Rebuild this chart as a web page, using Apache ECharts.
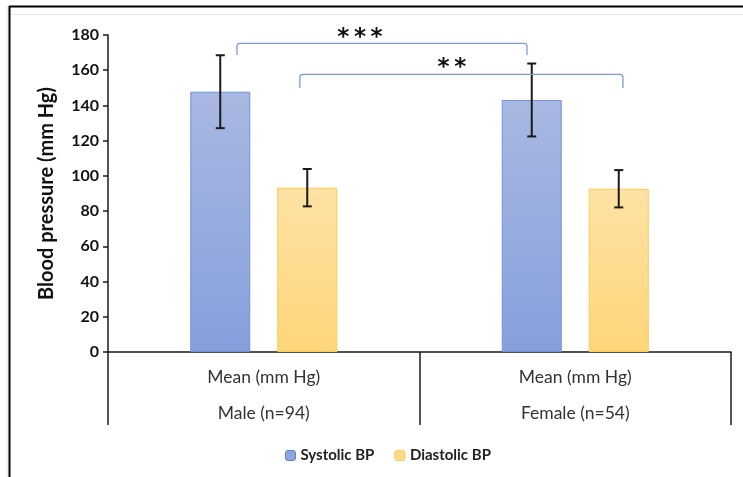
<!DOCTYPE html>
<html>
<head>
<meta charset="utf-8">
<script src="https://cdn.jsdelivr.net/npm/echarts/dist/echarts.min.js"></script>
<style>
html,body{margin:0;padding:0;background:#fff;}
#chart{width:743px;height:477px;}
</style>
</head>
<body>
<div id="chart"></div>
<script>
// ---- data ----
const groups = ['Male (n=94)', 'Female (n=54)'];
const measureLabel = 'Mean (mm Hg)';
const seriesNames = ['Systolic BP', 'Diastolic BP'];
const systolicMean = [147.8, 143.1];
const systolicSD = [20.7, 20.7];
const diastolicMean = [93.3, 92.7];
const diastolicSD = [10.6, 10.6];
const yMin = 0, yMax = 180, yInterval = 20;
// significance brackets: positions in category units, heights in mm Hg
const bracketFrom = [-0.086, 0.116];
const bracketTo = [0.845, 1.153];
const bracketTop = [175.3, 157.6];
const bracketEnd = [168.6, 149.9];
const bracketLabel = ['*\u2009*\u2009*', '*\u2009*'];
const bracketLabelPos = [0.309, 0.604];
const bracketLabelY = [178.0, 161.0];

// ---- style ----
const BAR_W = 60, GAP = 27;
const FONT = 'Lato, "Open Sans", sans-serif';
const sysGrad = new echarts.graphic.LinearGradient(0, 0, 0, 1, [
  {offset: 0, color: '#a9b8e2'}, {offset: 1, color: '#86a0dc'}]);
const diaGrad = new echarts.graphic.LinearGradient(0, 0, 0, 1, [
  {offset: 0, color: '#fee2a4'}, {offset: 1, color: '#fed67a'}]);

const chart = echarts.init(document.getElementById('chart'), null, {renderer: 'canvas'});

function errorRender(means, sds, sIdx) {
  return function (params, api) {
    const i = params.dataIndex;
    const off = (BAR_W + GAP) / 2 * (sIdx === 0 ? -1 : 1);
    const top = api.coord([i, means[i] + sds[i]]);
    const bot = api.coord([i, means[i] - sds[i]]);
    const x = top[0] + off;
    const cap = 4.5;
    const st = {stroke: '#1a1a1a', lineWidth: 2};
    return {type: 'group', children: [
      {type: 'line', shape: {x1: x, y1: top[1], x2: x, y2: bot[1]}, style: st},
      {type: 'line', shape: {x1: x - cap, y1: top[1], x2: x + cap, y2: top[1]}, style: st},
      {type: 'line', shape: {x1: x - cap, y1: bot[1], x2: x + cap, y2: bot[1]}, style: st}
    ]};
  };
}

function bracketRender(params, api) {
  const i = params.dataIndex;
  const c0 = api.coord([0, bracketTop[i]]);
  const band = api.size([1, 0])[0];
  const x1 = c0[0] + bracketFrom[i] * band;
  const x2 = c0[0] + bracketTo[i] * band;
  const yT = c0[1];
  const yE = api.coord([0, bracketEnd[i]])[1];
  const r = 3;
  const lx = c0[0] + bracketLabelPos[i] * band;
  const ly = api.coord([0, bracketLabelY[i]])[1];
  const d = `M${x1} ${yE} L${x1} ${yT + r} Q${x1} ${yT} ${x1 + r} ${yT} L${x2 - r} ${yT} Q${x2} ${yT} ${x2} ${yT + r} L${x2} ${yE}`;
  return {type: 'group', children: [
    {type: 'path', shape: {pathData: d}, style: {fill: null, stroke: '#7b9bd8', lineWidth: 1.3}},
    {type: 'text', x: lx, y: ly, style: {text: bracketLabel[i], fill: '#111',
      font: 'bold 23px "DejaVu Sans"', align: 'center', verticalAlign: 'middle'}}
  ]};
}

const option = {
  backgroundColor: '#fff',
  animation: false,
  grid: {left: 108, right: 12, top: 35, bottom: 125, containLabel: false},
  legend: {
    left: 280, top: 443,
    itemWidth: 10, itemHeight: 10, itemGap: 20,
    textStyle: {fontFamily: FONT, fontWeight: 'bold', fontSize: 15, color: '#222'},
    data: [
      {name: seriesNames[0], itemStyle: {color: '#8fa6dd', borderColor: '#5b82d0', borderWidth: 1}},
      {name: seriesNames[1], itemStyle: {color: '#fed98a', borderColor: '#ffc940', borderWidth: 1}}
    ]
  },
  xAxis: {
    type: 'category',
    data: groups,
    axisLine: {lineStyle: {color: '#1a1a1a', width: 1.5}},
    axisTick: {show: true, alignWithLabel: false, length: 73, lineStyle: {color: '#1a1a1a', width: 1.5}},
    axisLabel: {
      margin: 7, fontFamily: FONT, fontSize: 17.5, color: '#333', lineHeight: 36,
      formatter: v => measureLabel + '\n' + v
    }
  },
  yAxis: {
    type: 'value', min: yMin, max: yMax, interval: yInterval,
    name: 'Blood pressure (mm Hg)', nameLocation: 'middle', nameGap: 51, nameRotate: 90,
    nameTextStyle: {fontFamily: FONT, fontWeight: 'bold', fontSize: 20, color: '#111'},
    axisLine: {show: true, lineStyle: {color: '#1a1a1a', width: 1.5}},
    axisTick: {show: true, length: 5, lineStyle: {color: '#1a1a1a', width: 1.5}},
    axisLabel: {margin: 9, fontFamily: FONT, fontWeight: 'bold', fontSize: 16, color: '#111'},
    splitLine: {show: false}
  },
  series: [
    {name: seriesNames[0], type: 'bar', data: systolicMean, barWidth: BAR_W, barGap: (GAP / BAR_W * 100) + '%',
     itemStyle: {color: sysGrad, borderColor: '#6f91d6', borderWidth: 1}},
    {name: seriesNames[1], type: 'bar', data: diastolicMean, barWidth: BAR_W,
     itemStyle: {color: diaGrad, borderColor: '#fdcb52', borderWidth: 1}},
    {type: 'custom', renderItem: errorRender(systolicMean, systolicSD, 0),
     data: systolicMean.map((v, i) => [i, v]), z: 5, silent: true},
    {type: 'custom', renderItem: errorRender(diastolicMean, diastolicSD, 1),
     data: diastolicMean.map((v, i) => [i, v]), z: 5, silent: true},
    {type: 'custom', renderItem: bracketRender, clip: false,
     data: bracketTop.map((v, i) => [0, v]), z: 6, silent: true}
  ],
  graphic: [
    {type: 'line', shape: {x1: 9, y1: 6.5, x2: 743, y2: 6.5}, style: {stroke: '#000', lineWidth: 2}},
    {type: 'line', shape: {x1: 9.5, y1: 6, x2: 9.5, y2: 477}, style: {stroke: '#000', lineWidth: 2}},
    {type: 'line', shape: {x1: 7, y1: 6, x2: 7, y2: 477}, style: {stroke: '#e3e6ea', lineWidth: 1}},
    {type: 'line', shape: {x1: 11, y1: 14.5, x2: 743, y2: 14.5}, style: {stroke: '#e3e6ea', lineWidth: 1}}
  ]
};
chart.setOption(option);
</script>
</body>
</html>
